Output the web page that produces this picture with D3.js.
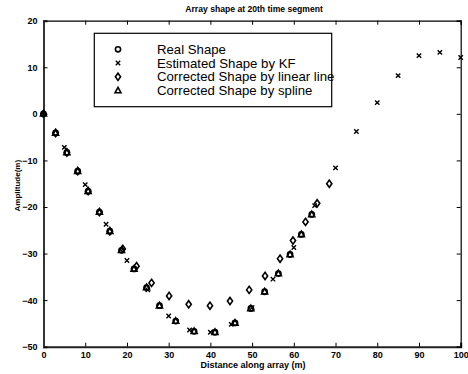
<!DOCTYPE html>
<html><head><meta charset="utf-8">
<script src="https://cdn.jsdelivr.net/npm/d3@7/dist/d3.min.js"></script>
<style>
body{margin:0;background:#fff;}
text{font-family:"Liberation Sans",Arial,sans-serif;fill:#000;}
</style></head>
<body><svg id="c" width="468" height="374"></svg>
<script>
// ---- data ----
const realX = [0,2.9,5.6,8.2,10.7,13.4,15.9,18.7,21.7,24.7,27.8,31.7,36.1,41.1,45.9,49.7,53.0,56.3,59.1,61.8,64.3];
const realY = [0,-4.1,-8.3,-12.3,-16.6,-21.1,-25.2,-29.3,-33.3,-37.3,-41.2,-44.5,-46.7,-46.9,-44.9,-41.8,-38.2,-34.3,-30.2,-25.9,-21.6];
const kfX = [0,5,10,15,20,25,30,35,40,45,50,55,60,65,70,75,80,85,90,95,100];
const kfY = [0,-7.2,-15.2,-23.7,-31.5,-37.8,-43.4,-46.4,-46.9,-45.2,-41.6,-35.5,-28.7,-19.7,-11.6,-3.8,2.4,8.2,12.5,13.2,12.1];
const linX = [0,2.9,5.6,8.2,10.7,13.4,15.9,19.0,22.3,25.9,30.1,34.8,39.9,44.7,49.3,53.1,56.7,59.8,62.8,65.6,68.5];
const linY = [0,-4.1,-8.3,-12.3,-16.6,-21.1,-25.2,-29.0,-32.7,-36.3,-39.1,-40.9,-41.2,-40.2,-37.8,-34.8,-31.1,-27.2,-23.2,-19.2,-15.0];
const splX = [0,2.9,5.6,8.2,10.7,13.4,15.9,18.7,21.7,24.7,27.8,31.7,36.1,41.1,45.9,49.7,53.0,56.3,59.1,61.8,64.3];
const splY = [0,-4.1,-8.3,-12.3,-16.6,-21.1,-25.2,-29.3,-33.3,-37.3,-41.2,-44.5,-46.7,-46.9,-44.9,-41.8,-38.2,-34.3,-30.2,-25.9,-21.6];
const xTicks = [0,10,20,30,40,50,60,70,80,90,100];
const yTicks = [20,10,0,-10,-20,-30,-40,-50];
const legendLabels = ["Real Shape","Estimated Shape by KF","Corrected Shape by linear line","Corrected Shape by spline"];
const title = "Array shape at 20th time segment";
const xLabel = "Distance along array (m)";
const yLabel = "Amplitude(m)";

// ---- layout ----
const L=43.5, R=460.7, T=20.7, B=346.7;
const svg = d3.select("#c");
const x = d3.scaleLinear().domain([0,100]).range([L,R]);
const y = d3.scaleLinear().domain([-50,20]).range([B,T]);

// axes (MATLAB style, ticks inward)
const fs = 9;
const axB = svg.append("g").attr("transform",`translate(0,${B})`)
  .call(d3.axisBottom(x).tickValues(xTicks).tickSize(-4).tickPadding(6));
const axT = svg.append("g").attr("transform",`translate(0,${T})`)
  .call(d3.axisTop(x).tickValues(xTicks).tickSize(-4).tickFormat(""));
const axL = svg.append("g").attr("transform",`translate(${L},0)`)
  .call(d3.axisLeft(y).tickValues(yTicks).tickSize(-4).tickPadding(6));
const axR = svg.append("g").attr("transform",`translate(${R},0)`)
  .call(d3.axisRight(y).tickValues(yTicks).tickSize(-4).tickFormat(""));
[axB,axT,axL,axR].forEach(g=>{
  g.select(".domain").attr("stroke","#000").attr("stroke-width",1.2);
  g.selectAll(".tick line").attr("stroke","#000").attr("stroke-width",1);
  g.selectAll("text").attr("font-size",fs).attr("font-weight","bold").attr("font-family","Liberation Sans, Arial, sans-serif");
});
axL.select(".domain").attr("stroke-width",2).attr("stroke","#333");
axB.select(".domain").attr("stroke-width",2).attr("stroke","#222");
axB.selectAll("text").attr("dy","0.55em");

// title & labels
svg.append("text").attr("x",(L+R)/2+2).attr("y",12).attr("text-anchor","middle")
  .attr("font-size",8.6).attr("font-weight","bold").text(title);
svg.append("text").attr("x",(L+R)/2+1).attr("y",368).attr("text-anchor","middle")
  .attr("font-size",9).attr("font-weight","bold").text(xLabel);
svg.append("text").attr("transform",`translate(20,${(T+B)/2+2}) rotate(-90)`).attr("text-anchor","middle")
  .attr("font-size",8).attr("font-weight","bold").text(yLabel);

// marker drawers
const sw = 1.6;
function circle(g,cx,cy){ g.append("circle").attr("cx",cx).attr("cy",cy).attr("r",2.6).attr("fill","none").attr("stroke","#000").attr("stroke-width",sw); }
function cross(g,cx,cy){ const s=2.2; g.append("path").attr("d",`M${cx-s},${cy-s}L${cx+s},${cy+s}M${cx-s},${cy+s}L${cx+s},${cy-s}`).attr("stroke","#000").attr("stroke-width",1.4).attr("fill","none"); }
function diamond(g,cx,cy){ g.append("path").attr("d",`M${cx},${cy-3.6}L${cx+2.6},${cy}L${cx},${cy+3.6}L${cx-2.6},${cy}Z`).attr("fill","none").attr("stroke","#000").attr("stroke-width",sw); }
function tri(g,cx,cy){ g.append("path").attr("d",`M${cx},${cy-3.3}L${cx+3},${cy+2.2}L${cx-3},${cy+2.2}Z`).attr("fill","none").attr("stroke","#000").attr("stroke-width",sw); }

const gm = svg.append("g");
realX.forEach((v,i)=>circle(gm,x(v),y(realY[i])));
kfX.forEach((v,i)=>cross(gm,x(v),y(kfY[i])));
linX.forEach((v,i)=>diamond(gm,x(v),y(linY[i])));
splX.forEach((v,i)=>tri(gm,x(v),y(splY[i])));

// legend
const lg = svg.append("g");
lg.append("rect").attr("x",94.3).attr("y",33.3).attr("width",237.4).attr("height",73.4)
  .attr("fill","#fff").attr("stroke","#000").attr("stroke-width",1.2);
const drawers=[circle,cross,diamond,tri];
const rowY=[49.3,63,76.8,90.6];
legendLabels.forEach((t,i)=>{
  drawers[i](lg,118,rowY[i]);
  lg.append("text").attr("x",157).attr("y",rowY[i]+4.5).attr("font-size",13.2).text(t);
});
</script></body></html>
